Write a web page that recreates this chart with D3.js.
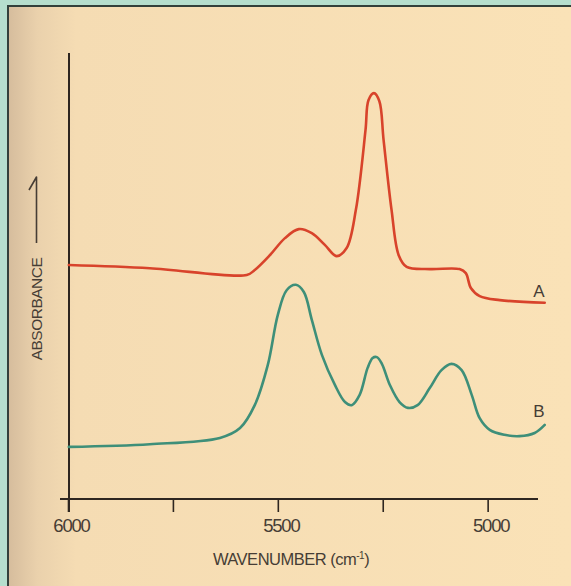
<!DOCTYPE html>
<html>
<head>
<meta charset="utf-8">
<script src="https://cdn.jsdelivr.net/npm/d3@7"></script>
<style>
  html, body { margin: 0; padding: 0; background: #b6decd; }
  svg { display: block; }
  text { font-family: "Liberation Sans", Arial, sans-serif; fill: #463d35; }
</style>
</head>
<body>
<svg id="chart"></svg>
<script>
// wavenumber (cm-1) / absorbance (arbitrary units)
const wnA = [5998, 5805, 5574, 5555, 5519, 5483, 5450, 5419, 5388, 5360, 5336, 5314, 5291, 5284, 5271, 5258, 5248, 5229, 5212, 5193, 5138, 5067, 5052, 5040, 5019, 4971, 4864];
const absA = [52.1, 51.4, 49.9, 51.0, 54.3, 58.1, 60.1, 59.2, 56.6, 54.1, 55.9, 64.4, 82.2, 88.8, 90.4, 88.6, 80.0, 64.4, 54.3, 51.7, 51.2, 51.2, 50.3, 47.0, 45.2, 44.3, 43.7];

const wnB = [5998, 5805, 5638, 5590, 5555, 5524, 5500, 5479, 5457, 5438, 5419, 5395, 5364, 5340, 5324, 5305, 5286, 5274, 5264, 5252, 5233, 5210, 5190, 5167, 5138, 5110, 5086, 5062, 5038, 5019, 4995, 4960, 4924, 4888, 4864];
const absB = [11.6, 12.2, 13.6, 15.8, 20.9, 29.8, 41.0, 46.5, 47.7, 46.1, 39.9, 32.1, 25.4, 21.6, 20.9, 23.2, 29.2, 31.4, 31.6, 30.1, 25.4, 21.6, 20.3, 20.9, 24.7, 28.7, 30.1, 28.7, 23.2, 18.0, 15.4, 14.3, 14.0, 14.7, 16.5];

const xTicks = [6000, 5750, 5500, 5250, 5000];
const xLabels = [6000, 5500, 5000];
const seriesNames = ["A", "B"];

const W = 571, H = 586;
const svg = d3.select("#chart").attr("width", W).attr("height", H);

// paper background with the darker scanned left edge
const defs = svg.append("defs");
const grad = defs.append("linearGradient").attr("id", "paper");
grad.append("stop").attr("offset", "0%").attr("stop-color", "#d6bd9d");
grad.append("stop").attr("offset", "5%").attr("stop-color", "#ead1ac");
grad.append("stop").attr("offset", "12%").attr("stop-color", "#f5dcb3");
grad.append("stop").attr("offset", "100%").attr("stop-color", "#fae2b7");

svg.append("rect").attr("x", 9).attr("y", 7).attr("width", W - 9).attr("height", H - 7)
  .attr("fill", "url(#paper)");
svg.append("path").attr("d", `M8,${H} V6 H${W}`)
  .attr("fill", "none").attr("stroke", "#33403a").attr("stroke-width", 2);

const x = d3.scaleLinear().domain([6000, 4880]).range([68, 538]);
const y = d3.scaleLinear().domain([0, 100]).range([499, 50]);

const axisColor = "#2e2620";

// x axis
const xAxis = d3.axisBottom(x)
  .tickValues(xTicks)
  .tickSize(13)
  .tickPadding(7)
  .tickFormat(d => xLabels.includes(d) ? d : "");

const gx = svg.append("g").attr("transform", `translate(0,${y(0)})`).call(xAxis);
gx.select(".domain").remove();
gx.selectAll(".tick line").attr("stroke", axisColor).attr("stroke-width", 1.6);
gx.selectAll(".tick text").attr("font-size", 18.5).attr("letter-spacing", -1.2)
  .attr("fill", "#463d35").attr("dx", 3);
gx.append("line")
  .attr("x1", x(6000) - 8).attr("x2", x(4880))
  .attr("stroke", axisColor).attr("stroke-width", 2);

// y axis (no ticks, just the line)
svg.append("line")
  .attr("x1", x(6000) + 1).attr("x2", x(6000) + 1)
  .attr("y1", 53).attr("y2", y(0) + 13)
  .attr("stroke", axisColor).attr("stroke-width", 2);

// axis titles
const xt = svg.append("text")
  .attr("x", 291).attr("y", 565)
  .attr("text-anchor", "middle")
  .attr("font-size", 16.5).attr("letter-spacing", -0.5);
xt.append("tspan").text("WAVENUMBER (cm");
xt.append("tspan").text("-1").attr("font-size", 10).attr("dy", -6);
xt.append("tspan").text(")").attr("dy", 6);

svg.append("text")
  .attr("transform", "translate(42,309) rotate(-90)")
  .attr("text-anchor", "middle")
  .attr("font-size", 15.5).attr("letter-spacing", -0.5)
  .text("ABSORBANCE");

// up arrow next to the y label
svg.append("path")
  .attr("d", "M36.5,243 V177 L29,190")
  .attr("fill", "none").attr("stroke", "#463d35").attr("stroke-width", 1.6)
  .attr("stroke-linejoin", "round");

// spectra
const line = d3.line()
  .x(d => x(d[0]))
  .y(d => y(d[1]))
  .curve(d3.curveCatmullRom.alpha(0.5));

const series = [
  { name: seriesNames[0], data: d3.zip(wnA, absA), color: "#d8432b" },
  { name: seriesNames[1], data: d3.zip(wnB, absB), color: "#3e8f79" }
];

svg.selectAll(".spectrum")
  .data(series)
  .join("path")
  .attr("class", "spectrum")
  .attr("d", d => line(d.data))
  .attr("fill", "none")
  .attr("stroke", d => d.color)
  .attr("stroke-width", 2.6)
  .attr("stroke-linecap", "round");

// curve labels just above the right end of each trace
svg.selectAll(".curve-label")
  .data(series)
  .join("text")
  .attr("class", "curve-label")
  .attr("x", 539)
  .attr("y", d => y(d.data[d.data.length - 1][1]) - 6 + (d.name === "B" ? -2 : 0))
  .attr("text-anchor", "middle")
  .attr("font-size", 17)
  .text(d => d.name);
</script>
</body>
</html>
